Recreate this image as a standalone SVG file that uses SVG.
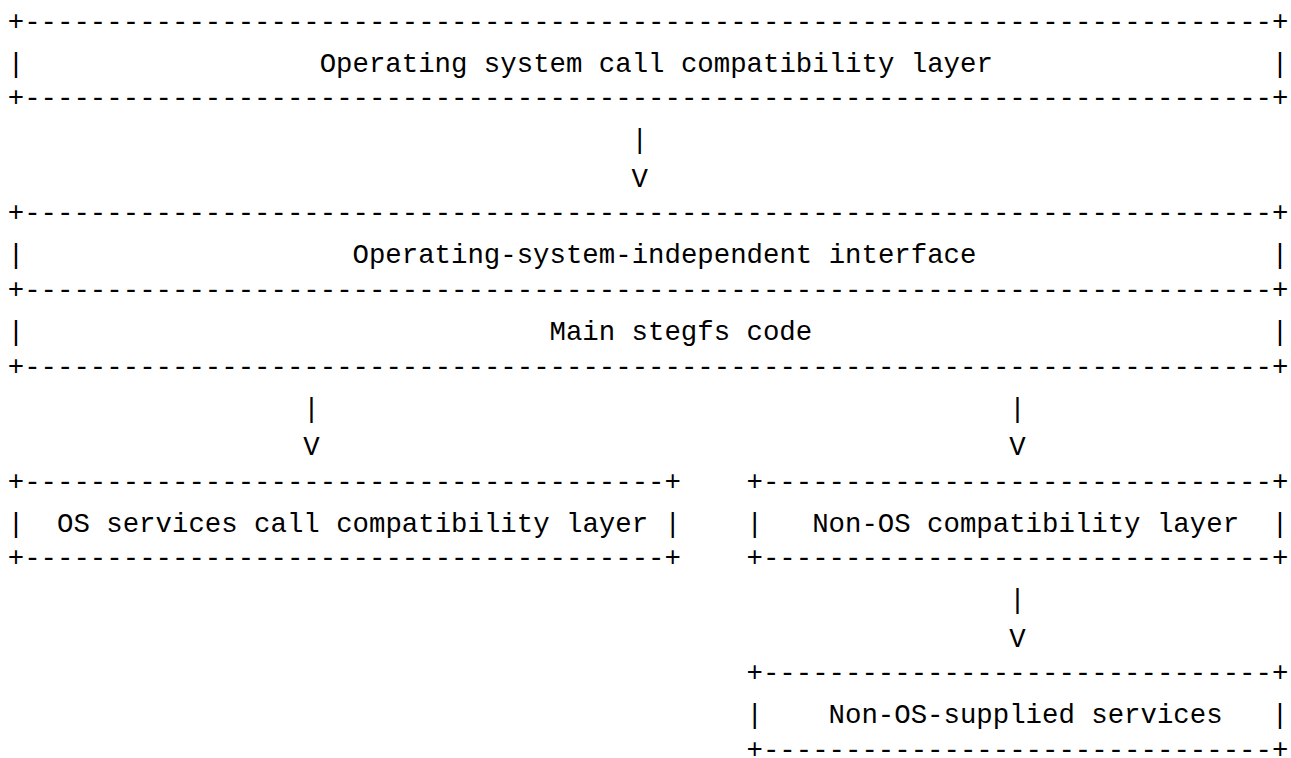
<svg xmlns="http://www.w3.org/2000/svg" width="1291" height="758" viewBox="0 0 1291 758" xml:space="preserve">
  <style>
    text { font-family: "Liberation Mono", "DejaVu Sans Mono", monospace; font-size: 27.36px; fill: #000; white-space: pre; }
  </style>
  <rect width="1291" height="758" fill="#fff"/>

  <!-- column x = 7.79 + 16.416*col ; rows every 38.33px -->
  <g id="os-call-compat-layer">
    <text x="7.79" y="29.7">+----------------------------------------------------------------------------+</text>
    <text x="7.79" y="71.7">|</text>
    <text x="319.70" y="71.7">Operating system call compatibility layer</text>
    <text x="1271.82" y="71.7">|</text>
    <text x="7.79" y="106.4">+----------------------------------------------------------------------------+</text>
  </g>

  <g id="os-independent-interface">
    <text x="7.79" y="221.35">+----------------------------------------------------------------------------+</text>
    <text x="7.79" y="263.4">|</text>
    <text x="352.53" y="263.4">Operating-system-independent interface</text>
    <text x="1271.82" y="263.4">|</text>
    <text x="7.79" y="298.0">+----------------------------------------------------------------------------+</text>
  </g>

  <g id="main-stegfs-code">
    <text x="7.79" y="340.0">|</text>
    <text x="549.52" y="340.0">Main stegfs code</text>
    <text x="1271.82" y="340.0">|</text>
    <text x="7.79" y="374.7">+----------------------------------------------------------------------------+</text>
  </g>

  <g id="os-services-compat-layer">
    <text x="7.79" y="489.7">+---------------------------------------+</text>
    <text x="7.79" y="531.7">|</text>
    <text x="57.04" y="531.7">OS services call compatibility layer</text>
    <text x="664.43" y="531.7">|</text>
    <text x="7.79" y="566.3">+---------------------------------------+</text>
  </g>

  <g id="non-os-compat-layer">
    <text x="746.51" y="489.7">+-------------------------------+</text>
    <text x="746.51" y="531.7">|</text>
    <text x="812.18" y="531.7">Non-OS compatibility layer</text>
    <text x="1271.82" y="531.7">|</text>
    <text x="746.51" y="566.3">+-------------------------------+</text>
  </g>

  <g id="non-os-supplied-services">
    <text x="746.51" y="681.3">+-------------------------------+</text>
    <text x="746.51" y="723.3">|</text>
    <text x="828.59" y="723.3">Non-OS-supplied services</text>
    <text x="1271.82" y="723.3">|</text>
    <text x="746.51" y="758.0">+-------------------------------+</text>
  </g>

  <g id="connectors">
    <text x="631.60" y="148.4">|</text>
    <text x="631.60" y="186.7">V</text>
    <text x="303.28" y="416.7">|</text>
    <text x="303.28" y="455.0">V</text>
    <text x="1009.17" y="416.7">|</text>
    <text x="1009.17" y="455.0">V</text>
    <text x="1009.17" y="608.4">|</text>
    <text x="1009.17" y="646.7">V</text>
  </g>
</svg>
